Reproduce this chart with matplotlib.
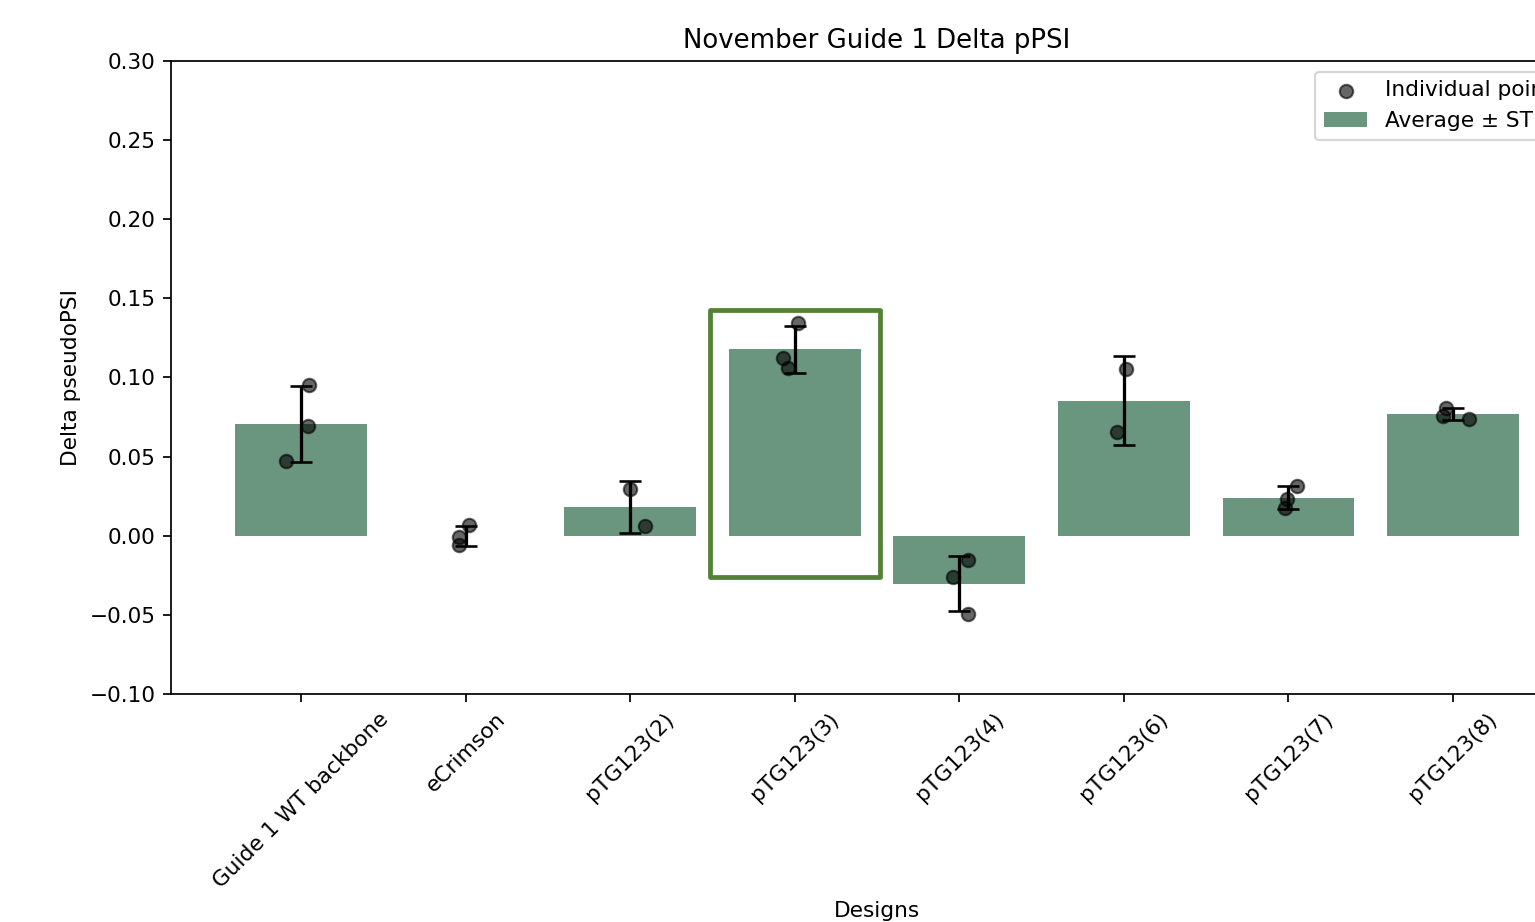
import numpy as np
import matplotlib
matplotlib.use("Agg")
import matplotlib.pyplot as plt
from matplotlib.patches import Rectangle

# --- dati ---
designs = ["Guide 1 WT backbone", "eCrimson", "pTG123(2)", "pTG123(3)",
           "pTG123(4)", "pTG123(6)", "pTG123(7)", "pTG123(8)"]

# repliche per design (delta pseudoPSI)
replicates = [
    [0.0952, 0.0694, 0.0472],
    [0.0066, -0.0008, -0.0058],
    [0.0295, 0.0064],
    [0.1346, 0.1125, 0.1062],
    [-0.0153, -0.0263, -0.0495],
    [0.1054, 0.0654],
    [0.0316, 0.0232, 0.0173],
    [0.0810, 0.0755, 0.0740],
]

# spostamento orizzontale dei punti (jitter fisso)
jitter = [
    [0.05, 0.04, -0.09],
    [0.02, -0.04, -0.04],
    [0.00, 0.09],
    [0.02, -0.07, -0.04],
    [0.05, -0.04, 0.05],
    [0.01, -0.04],
    [0.05, -0.01, -0.02],
    [-0.04, -0.06, 0.10],
]

highlight_idx = 3

means = np.array([np.mean(r) for r in replicates])
stds = np.array([np.std(r, ddof=1) for r in replicates])
x = np.arange(len(designs))

bar_color = "#6a957f"
DPI = 156

fig = plt.figure(figsize=(1535 / DPI, 922 / DPI), dpi=DPI)
ax = fig.add_axes([0.1114, 0.2473, 0.9199, 0.6866])

bars = ax.bar(x, means, width=0.8, color=bar_color, zorder=1)
ax.errorbar(x, means, yerr=stds, fmt="none", ecolor="black", elinewidth=1.5,
            capsize=5, capthick=1.2, zorder=2)

pts = None
for i, reps in enumerate(replicates):
    xs = [x[i] + j for j in jitter[i]]
    pts = ax.scatter(xs, reps, s=38, color="black", alpha=0.6, zorder=3)

# riquadro di evidenza attorno al design migliore
ax.add_patch(Rectangle((highlight_idx - 0.515, -0.0261), 1.035, 0.1688,
                       fill=False, edgecolor="#548235", linewidth=2.2,
                       joinstyle="round", zorder=4, clip_on=False))

ax.set_ylim(-0.10, 0.30)
ax.set_xticks(x)
ax.set_xticklabels(designs, rotation=45)
ax.set_xlabel("Designs")
ax.set_ylabel("Delta pseudoPSI")
ax.set_title("November Guide 1 Delta pPSI")
ax.legend([pts, bars], ["Individual points", "Average ± STD"], loc="upper right")

fig.savefig("out.png", dpi=DPI)
